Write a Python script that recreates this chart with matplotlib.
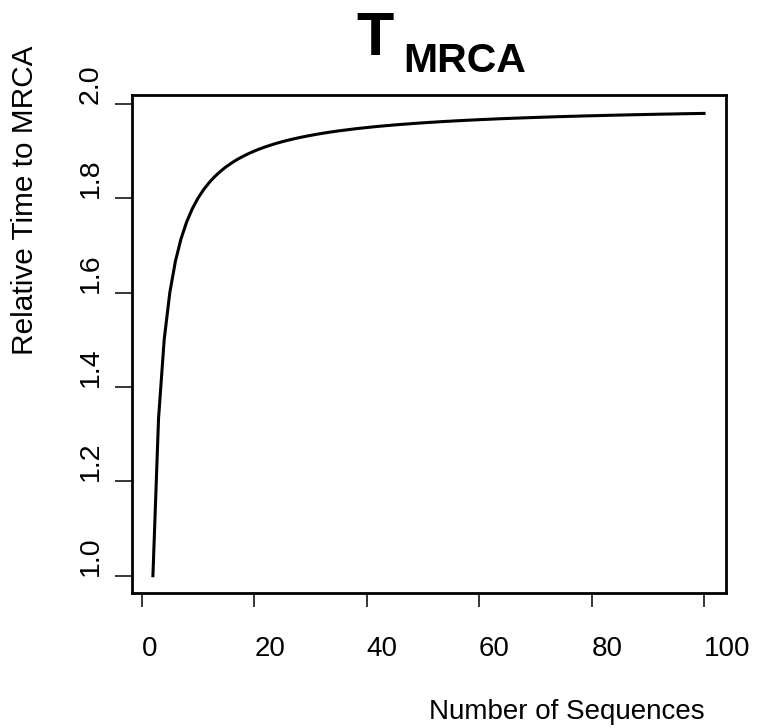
import matplotlib
matplotlib.use("Agg")
import matplotlib.pyplot as plt

plt.rcParams["font.family"] = ["Liberation Sans", "DejaVu Sans"]

# number of sampled sequences and expected TMRCA relative to a pair
n_sequences = list(range(2, 101))
rel_tmrca = [
    1.0, 1.3333, 1.5, 1.6, 1.6667, 1.7143, 1.75, 1.7778, 1.8,
    1.8182, 1.8333, 1.8462, 1.8571, 1.8667, 1.875, 1.8824, 1.8889, 1.8947, 1.9,
    1.9048, 1.9091, 1.9130, 1.9167, 1.92, 1.9231, 1.9259, 1.9286, 1.9310, 1.9333,
    1.9355, 1.9375, 1.9394, 1.9412, 1.9429, 1.9444, 1.9459, 1.9474, 1.9487, 1.95,
    1.9512, 1.9524, 1.9535, 1.9545, 1.9556, 1.9565, 1.9574, 1.9583, 1.9592, 1.96,
    1.9608, 1.9615, 1.9623, 1.9630, 1.9636, 1.9643, 1.9649, 1.9655, 1.9661, 1.9667,
    1.9672, 1.9677, 1.9683, 1.9688, 1.9692, 1.9697, 1.9701, 1.9706, 1.9710, 1.9714,
    1.9718, 1.9722, 1.9726, 1.9730, 1.9733, 1.9737, 1.9740, 1.9744, 1.9747, 1.975,
    1.9753, 1.9756, 1.9759, 1.9762, 1.9765, 1.9767, 1.9770, 1.9773, 1.9775, 1.9778,
    1.9780, 1.9783, 1.9785, 1.9787, 1.9789, 1.9792, 1.9794, 1.9796, 1.9798, 1.98,
]

xticks = [0, 20, 40, 60, 80, 100]
yticks = [1.0, 1.2, 1.4, 1.6, 1.8, 2.0]

W, H = 757, 728
fig = plt.figure(figsize=(W / 100, H / 100), dpi=100)
ax = fig.add_axes([132 / W, 1 - 593 / H, (726 - 132) / W, (593 - 95) / H])

ax.plot(n_sequences, rel_tmrca, color="black", lw=2.2)
ax.set_xlim(-1.72, 103.9)
ax.set_ylim(0.9633, 2.019)

for sp in ax.spines.values():
    sp.set_linewidth(2.0)

ax.set_xticks(xticks, [str(t) for t in xticks], ha="left", va="baseline",
              fontsize=20)
ax.set_yticks(yticks, [f"{t:.1f}" for t in yticks], rotation=90,
              rotation_mode="anchor", ha="left", va="baseline", fontsize=20.5)
ax.tick_params(axis="x", direction="out", length=10, width=1.1, pad=35.4)
ax.tick_params(axis="y", direction="out", length=12, width=1.1, pad=12.5)

# title: T with subscript MRCA
fig.text(356 / W, 1 - 55 / H, "T", fontsize=44, fontweight="bold",
         ha="left", va="baseline")
fig.text(403 / W, 1 - 72 / H, "MRCA", fontsize=29.5, fontweight="bold",
         ha="left", va="baseline")

fig.text(429 / W, 1 - 719 / H, "Number of Sequences", fontsize=20,
         ha="left", va="baseline")
fig.text(33 / W, 1 - 355 / H, "Relative Time to MRCA", fontsize=21.4,
         rotation=90, rotation_mode="anchor", ha="left", va="baseline")

fig.savefig("out.png", dpi=100)
